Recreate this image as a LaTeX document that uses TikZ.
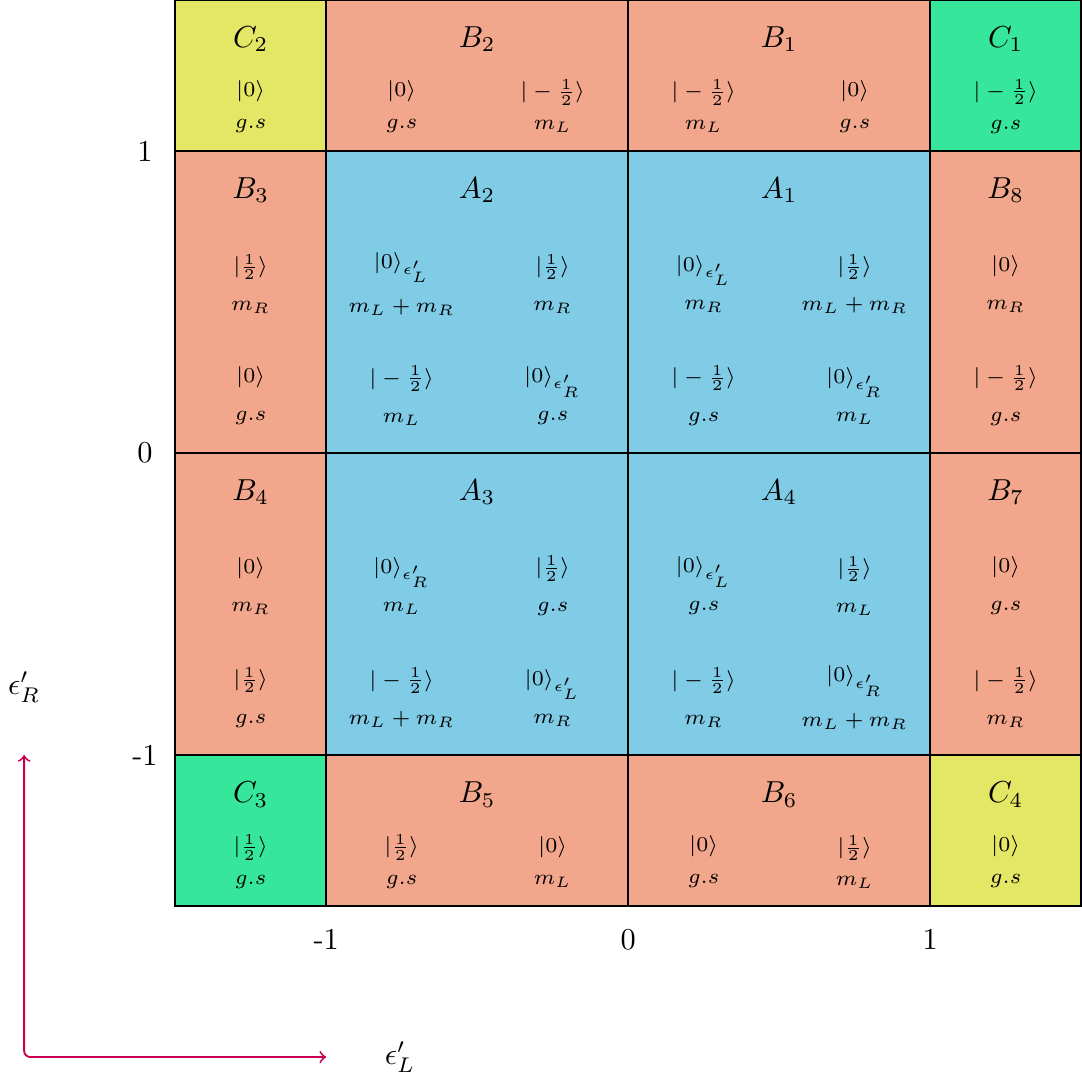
\documentclass[tikz,border=0pt]{standalone}
\usepackage{amsmath,amssymb}
\usepackage{xcolor}
\usepackage{tikz}
\usetikzlibrary{arrows}

\definecolor{cyell}{RGB}{228,230,101}
\definecolor{csalm}{RGB}{242,166,139}
\definecolor{cblue}{RGB}{128,203,230}
\definecolor{cgreen}{RGB}{54,230,154}
\definecolor{caxis}{RGB}{200,0,80}

\begin{document}
\begin{tikzpicture}[
    x=3.5cm, y=3.5cm,
    > = to, % arrow head style
    cell/.style={draw=black, line width=0.5pt},
    title/.style={font=\normalsize, inner sep=1pt},
    pair/.style={font=\scriptsize, align=center, inner sep=0pt},
    tick/.style={font=\normalsize, inner sep=1pt}
]
\useasboundingbox (-2.08,-2.086) rectangle (1.5,1.5);

% Cells
\filldraw[cell, fill=cyell]  (-1.5,1) rectangle (-1,1.5);
\filldraw[cell, fill=csalm]  (-1,1) rectangle (0,1.5);
\filldraw[cell, fill=csalm]  (0,1) rectangle (1,1.5);
\filldraw[cell, fill=cgreen] (1,1) rectangle (1.5,1.5);
\filldraw[cell, fill=csalm]  (-1.5,0) rectangle (-1,1);
\filldraw[cell, fill=cblue]  (-1,0) rectangle (0,1);
\filldraw[cell, fill=cblue]  (0,0) rectangle (1,1);
\filldraw[cell, fill=csalm]  (1,0) rectangle (1.5,1);
\filldraw[cell, fill=csalm]  (-1.5,-1) rectangle (-1,0);
\filldraw[cell, fill=cblue]  (-1,-1) rectangle (0,0);
\filldraw[cell, fill=cblue]  (0,-1) rectangle (1,0);
\filldraw[cell, fill=csalm]  (1,-1) rectangle (1.5,0);
\filldraw[cell, fill=cgreen] (-1.5,-1.5) rectangle (-1,-1);
\filldraw[cell, fill=csalm]  (-1,-1.5) rectangle (0,-1);
\filldraw[cell, fill=csalm]  (0,-1.5) rectangle (1,-1);
\filldraw[cell, fill=cyell]  (1,-1.5) rectangle (1.5,-1);

% Top row
\node[title] (C2) at (-1.25,1.37) {$C_2$};
\node[pair] (C2a) at (-1.25,1.148) {$|0\rangle$\\[2.5pt]$g.s$};
\node[title] (B2) at (-0.5,1.37) {$B_2$};
\node[pair] (B2a) at (-0.75,1.148) {$|0\rangle$\\[2.5pt]$g.s$};
\node[pair] (B2b) at (-0.25,1.148) {$|-\frac{1}{2}\rangle$\\[2.5pt]$m_L$};
\node[title] (B1) at (0.5,1.37) {$B_1$};
\node[pair] (B1a) at (0.25,1.148) {$|-\frac{1}{2}\rangle$\\[2.5pt]$m_L$};
\node[pair] (B1b) at (0.75,1.148) {$|0\rangle$\\[2.5pt]$g.s$};
\node[title] (C1) at (1.25,1.37) {$C_1$};
\node[pair] (C1a) at (1.25,1.148) {$|-\frac{1}{2}\rangle$\\[2.5pt]$g.s$};

% Upper middle row
\node[title] (B3) at (-1.25,0.87) {$B_3$};
\node[pair] (B3a) at (-1.25,0.56) {$|\frac{1}{2}\rangle$\\[4.5pt]$m_R$};
\node[pair] (B3b) at (-1.25,0.19) {$|0\rangle$\\[4.5pt]$g.s$};
\node[title] (A2) at (-0.5,0.87) {$A_2$};
\node[pair] (A2a) at (-0.75,0.56) {$|0\rangle_{\epsilon'_L}$\\[4.5pt]$m_L+m_R$};
\node[pair] (A2b) at (-0.25,0.56) {$|\frac{1}{2}\rangle$\\[4.5pt]$m_R$};
\node[pair] (A2c) at (-0.75,0.19) {$|-\frac{1}{2}\rangle$\\[4.5pt]$m_L$};
\node[pair] (A2d) at (-0.25,0.19) {$|0\rangle_{\epsilon'_R}$\\[4.5pt]$g.s$};
\node[title] (A1) at (0.5,0.87) {$A_1$};
\node[pair] (A1a) at (0.25,0.56) {$|0\rangle_{\epsilon'_L}$\\[4.5pt]$m_R$};
\node[pair] (A1b) at (0.75,0.56) {$|\frac{1}{2}\rangle$\\[4.5pt]$m_L+m_R$};
\node[pair] (A1c) at (0.25,0.19) {$|-\frac{1}{2}\rangle$\\[4.5pt]$g.s$};
\node[pair] (A1d) at (0.75,0.19) {$|0\rangle_{\epsilon'_R}$\\[4.5pt]$m_L$};
\node[title] (B8) at (1.25,0.87) {$B_8$};
\node[pair] (B8a) at (1.25,0.56) {$|0\rangle$\\[4.5pt]$m_R$};
\node[pair] (B8b) at (1.25,0.19) {$|-\frac{1}{2}\rangle$\\[4.5pt]$g.s$};

% Lower middle row
\node[title] (B4) at (-1.25,-0.13) {$B_4$};
\node[pair] (B4a) at (-1.25,-0.44) {$|0\rangle$\\[4.5pt]$m_R$};
\node[pair] (B4b) at (-1.25,-0.81) {$|\frac{1}{2}\rangle$\\[4.5pt]$g.s$};
\node[title] (A3) at (-0.5,-0.13) {$A_3$};
\node[pair] (A3a) at (-0.75,-0.44) {$|0\rangle_{\epsilon'_R}$\\[4.5pt]$m_L$};
\node[pair] (A3b) at (-0.25,-0.44) {$|\frac{1}{2}\rangle$\\[4.5pt]$g.s$};
\node[pair] (A3c) at (-0.75,-0.81) {$|-\frac{1}{2}\rangle$\\[4.5pt]$m_L+m_R$};
\node[pair] (A3d) at (-0.25,-0.81) {$|0\rangle_{\epsilon'_L}$\\[4.5pt]$m_R$};
\node[title] (A4) at (0.5,-0.13) {$A_4$};
\node[pair] (A4a) at (0.25,-0.44) {$|0\rangle_{\epsilon'_L}$\\[4.5pt]$g.s$};
\node[pair] (A4b) at (0.75,-0.44) {$|\frac{1}{2}\rangle$\\[4.5pt]$m_L$};
\node[pair] (A4c) at (0.25,-0.81) {$|-\frac{1}{2}\rangle$\\[4.5pt]$m_R$};
\node[pair] (A4d) at (0.75,-0.81) {$|0\rangle_{\epsilon'_R}$\\[4.5pt]$m_L+m_R$};
\node[title] (B7) at (1.25,-0.13) {$B_7$};
\node[pair] (B7a) at (1.25,-0.44) {$|0\rangle$\\[4.5pt]$g.s$};
\node[pair] (B7b) at (1.25,-0.81) {$|-\frac{1}{2}\rangle$\\[4.5pt]$m_R$};

% Bottom row
\node[title] (C3) at (-1.25,-1.132) {$C_3$};
\node[pair] (C3a) at (-1.25,-1.354) {$|\frac{1}{2}\rangle$\\[2.5pt]$g.s$};
\node[title] (B5) at (-0.5,-1.132) {$B_5$};
\node[pair] (B5a) at (-0.75,-1.354) {$|\frac{1}{2}\rangle$\\[2.5pt]$g.s$};
\node[pair] (B5b) at (-0.25,-1.354) {$|0\rangle$\\[2.5pt]$m_L$};
\node[title] (B6) at (0.5,-1.132) {$B_6$};
\node[pair] (B6a) at (0.25,-1.354) {$|0\rangle$\\[2.5pt]$g.s$};
\node[pair] (B6b) at (0.75,-1.354) {$|\frac{1}{2}\rangle$\\[2.5pt]$m_L$};
\node[title] (C4) at (1.25,-1.132) {$C_4$};
\node[pair] (C4a) at (1.25,-1.354) {$|0\rangle$\\[2.5pt]$g.s$};

% Tick labels
\node[tick] (ty1) at (-1.6,1) {1};
\node[tick] (ty0) at (-1.6,0) {0};
\node[tick] (tym) at (-1.6,-1) {-1};
\node[tick] (txm) at (-1,-1.61) {-1};
\node[tick] (tx0) at (0,-1.61) {0};
\node[tick] (tx1) at (1,-1.61) {1};

% Axes
\coordinate (yend) at (-2,-1);
\coordinate (xend) at (-1,-2);
\draw[<->, caxis, semithick, rounded corners=2pt] (yend) |- (xend);
\node[tick] (epsR) at (-2,-0.775) {$\epsilon'_R$};
\node[tick] (epsL) at (-0.755,-2.0) {$\epsilon'_L$};

\end{tikzpicture}
\end{document}
